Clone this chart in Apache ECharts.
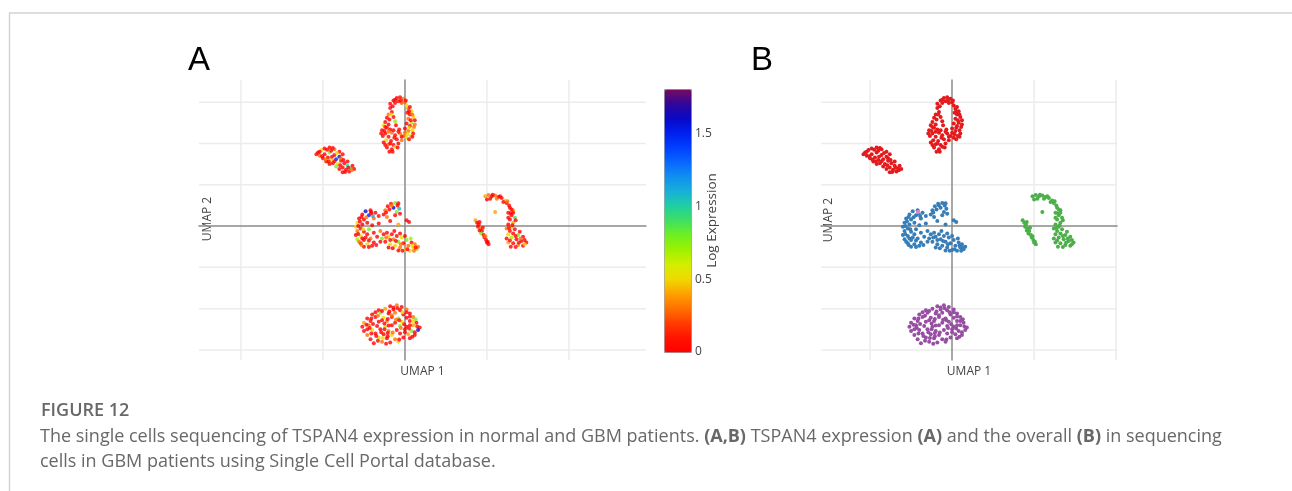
<!DOCTYPE html>
<html>
<head>
<meta charset="utf-8">
<title>TSPAN4 single-cell UMAP</title>
<script src="https://cdn.jsdelivr.net/npm/echarts@6/dist/echarts.min.js"></script>
<style>
  html, body { margin: 0; padding: 0; background: #ffffff; }
  #chart { width: 1292px; height: 491px; }
</style>
</head>
<body>
<div id="chart"></div>
<script>
// Cells of each cluster: [UMAP 1, UMAP 2, TSPAN4 log expression]
const clusterTop = [
  [-0.7,15.2,0],[-0.5,15.5,0],[-0.3,15.6,0],[-0.1,15.4,0.3],[0.0,15.0,0.3],[-0.9,14.8,0],[-0.6,14.9,0],[-0.2,14.9,0.25],[0.1,14.6,0.5],[-0.4,15.1,0],
  [0.2,14.2,0.3],[0.4,13.9,0.5],[0.3,13.5,0],[0.5,13.2,0.5],[0.2,13.0,0.3],[0.6,12.8,0],[0.4,12.5,0.7],[0.3,12.1,0],[0.55,12.0,0.3],[0.45,11.6,0.5],
  [0.2,11.5,0.3],[0.5,11.2,0],[0.35,10.9,0.55],[0.1,12.4,0],[0.15,13.7,0],[0.6,12.3,0.3],[0.0,11.8,0],[0.3,14.4,0],
  [-0.9,14.3,0],[-0.8,13.8,0],[-1.0,13.5,0.3],[-0.7,13.2,0],[-0.95,12.9,0],[-0.6,12.7,0.75],[-1.1,13.1,0],
  [-1.3,12.2,0.5],[-1.1,11.9,0],[-1.4,11.6,0],[-0.9,11.7,0],[-1.2,11.2,0],[-0.8,11.3,0.3],[-1.35,10.9,0],[-1.0,10.8,0],[-0.6,11.0,0],[-1.15,10.4,0.5],
  [-0.85,10.3,0],[-0.5,10.5,0],[-1.3,10.1,0],[-1.0,9.9,0.3],[-0.7,9.8,0],[-1.1,9.5,0],[-0.8,9.3,0],[-0.95,9.0,0],[-0.6,9.6,0.5],[-0.4,10.0,0],
  [-1.25,11.5,0],[-0.7,11.6,0],[-0.55,12.2,0],[-1.0,12.3,0],
  [-0.3,11.2,0.3],[-0.1,10.9,0.3],[0.1,10.7,0.5],[-0.2,10.4,0.3],[0.25,10.5,0],[0.0,11.3,0.3],[-0.35,11.7,0],
  [-0.6,15.3,0],[-0.25,15.2,0],[0.05,15.2,0],[0.25,13.9,0],[0.45,13.5,0.3],[0.35,12.8,0],[0.25,11.9,0.5],[0.45,10.8,0],[-0.75,14.5,0],[-0.85,13.5,0.5],
  [-1.2,12.6,0],[-1.2,12.0,0],[-1.0,11.4,0.3],[-0.65,10.7,0],[-0.9,10.0,0],[-1.2,9.8,0],[-0.45,9.5,0],[-0.75,9.0,0],[-0.2,10.8,0],[0.15,11.1,0.5],
  [-1.45,11.2,0],[-0.4,11.4,0]
];
const clusterLeft = [
  [-5.3,8.9,0],[-5.1,9.2,0.5],[-4.9,9.4,0],[-4.6,9.5,0],[-4.3,9.3,0.3],[-4.0,9.0,0],[-5.2,8.5,0.3],[-4.9,8.7,0],[-4.6,8.9,0.8],[-4.3,8.6,0],
  [-4.0,8.4,1.6],[-3.8,8.7,0],[-5.0,8.2,0],[-4.7,8.3,0],[-4.5,8.0,0.5],[-4.2,8.1,1.5],[-3.9,7.9,0],[-4.8,7.8,0],[-4.4,7.6,0],[-4.1,7.5,0.5],
  [-3.7,7.6,0],[-3.5,7.3,1.0],[-3.8,7.1,0],[-4.0,6.9,0],[-3.6,6.8,0],[-3.3,7.0,0.9],[-3.1,6.9,0],[-3.4,6.6,0],[-3.8,6.5,0],[-3.2,7.3,0],
  [-5.4,8.7,0],[-4.5,9.1,0],[-3.9,8.2,0.3],[-4.6,7.5,0],[-3.5,7.8,0],[-4.2,7.2,0.8],
  [-5.2,9.0,0],[-4.75,9.25,0],[-4.4,9.45,0],[-4.15,8.85,0.5],[-5.05,8.45,0],[-4.45,8.4,0],[-4.85,8.05,0.3],[-4.3,7.85,0],[-3.75,8.0,0],[-3.95,7.35,0],
  [-3.45,7.05,0],[-3.65,6.55,0],[-3.25,6.75,0.3],[-4.65,7.8,0]
];
const clusterMid = [
  [-2.4,1.8,1.6],[-2.1,1.9,0],[-1.8,1.6,0],[-2.6,1.4,0],[-2.2,1.3,1.5],[-1.6,1.2,0],[-2.8,0.9,0],[-2.5,0.8,0],[-1.9,0.9,0.3],[-2.9,0.4,0.5],
  [-2.6,0.2,0],[-2.3,0.4,0],[-3.0,-0.1,0.5],[-2.7,-0.3,0],[-2.0,0.1,0],[-2.9,-0.6,0.3],[-2.5,-0.7,0],[-2.2,-0.4,0.8],[-3.0,-1.1,0],[-2.7,-1.2,0.5],
  [-2.3,-1.0,0],[-1.9,-0.8,0],[-2.9,-1.6,0.7],[-2.5,-1.7,0],[-2.1,-1.5,0.3],[-2.7,-2.1,0],[-2.3,-2.2,0.5],[-1.9,-2.0,0],[-2.5,-2.5,0],[-2.0,-2.4,0],
  [-1.7,-1.3,0],[-1.6,0.3,0],[-2.8,-1.9,0.3],[-2.4,-1.4,0],
  [-1.3,1.4,0],[-1.2,1.9,0.3],[-1.05,2.4,0],[-0.85,2.7,0],[-0.6,2.8,0.8],[-0.45,2.5,0],[-0.35,2.1,1.1],[-0.5,1.7,0.8],[-0.7,2.2,1.6],[-0.95,2.0,0],
  [-0.3,1.5,0],[-1.1,1.1,0.3],[-0.6,1.3,0],
  [0.1,0.7,0],[0.25,0.5,0],[-0.4,0.2,0.4],[-0.9,0.6,0],[-1.95,1.2,1.1],
  [-1.5,-0.6,0.3],[-1.3,-1.0,0],[-1.4,-1.5,0.8],[-1.1,-0.8,0],[-1.0,-1.3,0.5],[-1.2,-1.9,0],[-0.9,-2.2,0.5],[-0.8,-1.0,0],[-0.7,-1.6,0.3],[-0.6,-2.4,0.5],
  [-0.5,-1.2,0],[-0.4,-1.9,0.8],[-0.3,-2.6,0.3],[-0.2,-1.4,0.5],[-0.1,-2.1,0],[0.0,-2.9,0.5],[0.1,-1.7,0.8],[0.2,-2.4,0.3],[0.3,-3.0,0.5],[0.4,-2.0,0],
  [0.5,-2.6,0.5],[0.6,-2.2,0.3],[0.7,-2.8,0.5],[0.8,-2.5,0.3],[-1.0,-2.6,0],[-0.3,-0.9,0],[0.0,-1.2,0],[0.35,-1.5,0.7],[-0.65,-0.6,0],[0.55,-3.0,0.3],
  [-0.15,-3.0,0],
  [-2.65,1.1,0],[-2.35,1.05,0.3],[-2.05,1.55,0],[-2.75,0.55,0],[-2.85,0.0,0],[-2.55,-0.4,0.5],[-2.85,-0.95,0],[-2.6,-1.5,0],[-2.2,-1.75,0],[-2.65,-2.3,0.3],
  [-2.2,-2.55,0],[-1.75,-2.3,0],[-1.5,-1.9,0],[-1.15,-1.4,0.3],[-0.9,-1.7,0],[-0.55,-1.8,0],[-0.25,-2.2,0.3],[0.15,-2.8,0],[0.45,-2.35,0.5],[0.65,-2.6,0],
  [-0.75,-2.7,0],[-0.4,-2.95,0],[-1.15,1.65,0],[-0.8,2.5,0.3],[-0.4,2.75,0]
];
const clusterRight = [
  [4.9,3.6,0.4],[5.1,3.75,0.3],[5.3,3.6,0],[5.5,3.7,0.3],[5.7,3.5,0],[5.9,3.4,0],[6.1,3.1,0.5],[6.2,2.8,0],[6.35,2.5,0],[5.2,3.3,0],
  [5.6,3.3,0.3],[6.0,2.9,0],[5.0,3.2,0],
  [6.4,2.2,0],[6.6,1.9,0.4],[6.3,1.6,0],[6.5,1.3,0],[6.7,1.0,0.9],[6.4,0.8,0],[6.6,0.4,0.4],[6.3,0.2,0],[6.5,-0.1,0.5],[6.7,-0.4,0],
  [6.4,-0.6,0],[6.2,-0.3,0.3],[6.6,1.6,0],[6.3,1.0,0],
  [6.3,-1.0,0.5],[6.6,-0.9,0],[6.9,-1.1,0.8],[7.2,-1.3,0],[6.2,-1.5,0],[6.5,-1.4,0.7],[6.8,-1.6,0],[7.1,-1.8,0],[7.4,-2.0,0],[6.3,-2.0,0.4],
  [6.6,-2.1,0],[6.9,-2.3,0.3],[7.2,-2.4,0],[6.45,-2.5,0],[7.0,-0.7,0],[7.3,-2.2,0.5],[6.75,-2.55,0],
  [4.3,0.7,0.4],[4.4,0.4,0],[4.5,0.2,0],[4.45,-0.1,0],[4.6,-0.3,0.3],[4.7,-0.6,0],[4.65,-0.9,0.8],[4.8,-1.1,0],[4.85,-1.4,0],[4.95,-1.7,0],
  [5.0,-2.0,0],[5.1,-2.2,0],[4.55,0.5,0],[4.75,-0.2,0],
  [5.5,1.7,0.4],
  [5.35,3.8,0],[5.8,3.6,0],[6.25,3.0,0.3],[6.5,2.0,0],[6.45,1.55,0],[6.75,0.7,0],[6.55,0.1,0],[6.35,-0.25,0],[6.75,-1.2,0],[7.05,-1.5,0.3],
  [6.4,-1.75,0],[7.3,-1.7,0],[6.95,-2.0,0],[4.55,-0.55,0],[4.9,-1.25,0.3],[5.05,-1.9,0]
];
const clusterBottom = [
  [-0.9,-9.7,0],[-0.5,-9.6,0.3],[-0.2,-9.8,0],
  [-1.6,-10.2,0],[-1.2,-10.0,0.4],[-0.7,-10.1,0],[-0.3,-10.2,0],[0.1,-10.1,0.3],
  [-2.0,-10.7,0],[-1.5,-10.5,0.8],[-1.0,-10.6,0],[-0.6,-10.5,0.3],[-0.1,-10.7,0],[0.3,-10.6,0],
  [-2.3,-11.2,0],[-1.8,-11.0,0],[-1.3,-11.1,0.5],[-0.8,-11.0,0],[-0.4,-11.2,0.8],[0.1,-11.1,0],[0.5,-11.0,0.3],
  [-2.5,-11.7,0.4],[-2.1,-11.5,0],[-1.6,-11.6,0],[-1.1,-11.5,0.3],[-0.6,-11.7,0],[-0.2,-11.6,0.5],[0.3,-11.5,0],[0.7,-11.7,0],
  [-2.6,-12.2,0],[-2.2,-12.0,0.3],[-1.7,-12.1,0],[-1.2,-12.2,0.5],[-0.8,-12.0,0],[-0.3,-12.1,0.8],[0.1,-12.2,0],[0.5,-12.0,0.4],[0.9,-12.3,0],
  [-2.5,-12.7,0],[-2.0,-12.6,0.5],[-1.5,-12.5,0],[-1.0,-12.7,0.3],[-0.5,-12.6,0],[0.0,-12.5,0],[0.4,-12.7,0.8],[0.8,-12.6,1.6],
  [-2.3,-13.2,0.3],[-1.8,-13.0,0],[-1.3,-13.1,0],[-0.8,-13.2,0.5],[-0.3,-13.0,0],[0.2,-13.1,0.4],[0.6,-13.2,0],
  [-2.1,-13.7,0],[-1.6,-13.5,0.5],[-1.1,-13.6,0],[-0.6,-13.7,0.3],[-0.1,-13.5,0],[0.3,-13.6,0],
  [-1.9,-14.2,0],[-1.4,-14.0,0.3],[-0.9,-14.1,0],[-0.4,-14.0,0.5],
  [-1.95,-11.85,0],[-1.45,-12.85,0],[-0.55,-11.35,0.3],[0.25,-12.4,0],[-1.05,-13.35,0],[-0.15,-10.45,0.5],[-2.15,-12.35,0],[0.45,-13.4,0],
  [-0.95,-10.35,0],[-1.65,-10.85,0.3],[0.65,-11.3,0.8],[-1.25,-11.8,0],[-0.05,-11.9,0],[-0.75,-12.9,0.3],[-1.75,-13.3,0],
  [-0.7,-9.85,0],[-1.4,-10.3,0],[-0.45,-9.95,0],[-1.8,-10.45,0],[-0.8,-10.8,0.3],[0.1,-10.45,0],[-2.05,-11.2,0],[-1.05,-11.25,0],[0.3,-10.95,0],
  [-2.35,-11.95,0],[-1.4,-11.4,0],[-0.35,-11.4,0],[0.5,-11.5,0.5],[-1.0,-12.05,0],[0.3,-12.0,0],[0.75,-12.15,0],[-2.3,-12.5,0],[-1.25,-12.5,0],
  [-0.25,-12.35,0.3],[0.6,-12.85,0],[-2.05,-13.0,0],[-1.05,-12.95,0],[0.0,-12.85,0],[-1.35,-13.55,0.5],[-0.35,-13.75,0],[-1.65,-13.9,0],[-1.15,-14.25,0]
];
const clusterMinor = [
  [-2.07,1.7,0]
];

const clusters = [clusterTop, clusterLeft, clusterMid, clusterRight, clusterBottom, clusterMinor];
const clusterColors = ['#e41a1c', '#e41a1c', '#377eb8', '#4daf4a', '#984ea3', '#f781bf'];

// Axis extents (UMAP units) and grid line positions
const rangeAX = [-12.56, 14.7];
const rangeBX = [-7.99, 10.05];
const rangeY = [-16.22, 17.68];
const gridLinesAX = [-10, -5, 5, 10];
const gridLinesBX = [-5, 5, 10];
const gridLinesY = [-15, -10, -5, 5, 10, 15];

// Log expression colour scale
const exprRange = [0, 1.81];
const exprTickStep = 0.5;
const exprColors = [
  '#ff0000', '#ff1400', '#ff3c00', '#ff7000', '#ffa000', '#f0d800', '#d4ee00', '#a0f000',
  '#70f020', '#40e060', '#20d0a0', '#18b0d8', '#1090f0', '#0868ff', '#0040ff', '#0020f0',
  '#0808c8', '#30069a', '#780a60'
];

const chart = echarts.init(document.getElementById('chart'), null, { renderer: 'canvas' });

const FONT = '"Open Sans", "DejaVu Sans", sans-serif';

function gridLineSeries(axisIdx, xs, ys) {
  const style = { stroke: '#ececec', lineWidth: 1.5 };
  return [
    {
      type: 'custom', xAxisIndex: axisIdx, yAxisIndex: axisIdx, silent: true, z: 0, clip: false,
      data: xs.map(v => [v, 0]),
      renderItem(params, api) {
        const x = api.coord([api.value(0), 0])[0];
        const cs = params.coordSys;
        return { type: 'line', shape: { x1: x, y1: cs.y, x2: x, y2: cs.y + cs.height }, style };
      }
    },
    {
      type: 'custom', xAxisIndex: axisIdx, yAxisIndex: axisIdx, silent: true, z: 0, clip: false,
      data: ys.map(v => [0, v]),
      renderItem(params, api) {
        const y = api.coord([0, api.value(1)])[1];
        const cs = params.coordSys;
        return { type: 'line', shape: { x1: cs.x, y1: y, x2: cs.x + cs.width, y2: y }, style };
      }
    }
  ];
}

function umapXAxis(gridIndex, range) {
  return {
    type: 'value', gridIndex, min: range[0], max: range[1], z: 1,
    axisLine: { show: true, onZero: true, lineStyle: { color: '#8a8a8a', width: 1.5 } },
    axisTick: { show: false }, axisLabel: { show: false }, splitLine: { show: false }
  };
}
function umapYAxis(gridIndex) {
  return {
    type: 'value', gridIndex, min: rangeY[0], max: rangeY[1], z: 1,
    axisLine: { show: true, onZero: true, lineStyle: { color: '#8a8a8a', width: 1.5 } },
    axisTick: { show: false }, axisLabel: { show: false }, splitLine: { show: false }
  };
}

const cellsAll = clusters.flat();

const series = [];
series.push(...gridLineSeries(0, gridLinesAX, gridLinesY));
series.push(...gridLineSeries(1, gridLinesBX, gridLinesY));
const exprSeriesIndex = series.length;
series.push({
  type: 'scatter', name: 'TSPAN4', xAxisIndex: 0, yAxisIndex: 0, z: 2,
  symbolSize: 4, data: cellsAll, silent: true
});
clusters.forEach((cells, i) => {
  series.push({
    type: 'scatter', xAxisIndex: 1, yAxisIndex: 1, z: 2, silent: true,
    symbolSize: 4, data: cells, itemStyle: { color: clusterColors[i], opacity: 1 }
  });
});

const labelColor = '#444';
const captionColor = '#686868';

const option = {
  backgroundColor: '#ffffff',
  animation: false,
  grid: [
    { left: 199, top: 80, width: 447, height: 280 },
    { left: 821, top: 80, width: 296, height: 280 },
    { left: 664, top: 89, width: 27, height: 263 }
  ],
  xAxis: [
    umapXAxis(0, rangeAX),
    umapXAxis(1, rangeBX),
    { type: 'value', gridIndex: 2, min: 0, max: 1, show: false }
  ],
  yAxis: [
    umapYAxis(0),
    umapYAxis(1),
    {
      type: 'value', gridIndex: 2, position: 'right', min: exprRange[0], max: exprRange[1], interval: exprTickStep,
      axisLine: { show: false }, axisTick: { show: false }, splitLine: { show: false },
      axisLabel: { show: true, showMaxLabel: false, color: labelColor, fontSize: 12, fontFamily: FONT, margin: 4 },
      name: 'Log Expression', nameLocation: 'middle', nameRotate: 90, nameGap: 14, nameMoveOverlap: false,
      nameTextStyle: { color: labelColor, fontSize: 13.5, fontFamily: FONT }
    }
  ],
  visualMap: [{
    type: 'continuous', seriesIndex: exprSeriesIndex, dimension: 2,
    min: exprRange[0], max: exprRange[1], inRange: { color: exprColors },
    calculable: false, hoverLink: false, itemWidth: 27, itemHeight: 263,
    left: 664, top: 89, padding: 0, borderWidth: 1, borderColor: '#9a9a9a'
  }],
  series,
  graphic: [
    // frame
    { type: 'line', shape: { x1: 9, y1: 13, x2: 1292, y2: 13 }, style: { stroke: '#d2d2d2', lineWidth: 1.5 }, silent: true },
    { type: 'line', shape: { x1: 9.5, y1: 13, x2: 9.5, y2: 491 }, style: { stroke: '#d2d2d2', lineWidth: 1.5 }, silent: true },
    // panel letters
    { type: 'text', x: 188, y: 61, style: { text: 'A', font: '33px "Liberation Sans", Arial, sans-serif', fill: '#000', verticalAlign: 'middle' }, silent: true },
    { type: 'text', x: 751, y: 61, style: { text: 'B', font: '33px "Liberation Sans", Arial, sans-serif', fill: '#000', verticalAlign: 'middle' }, silent: true },
    // axis titles
    { type: 'text', x: 422.5, y: 372, style: { text: 'UMAP 1', font: '12px ' + FONT, fill: labelColor, align: 'center', verticalAlign: 'middle' }, silent: true },
    { type: 'text', x: 969, y: 372, style: { text: 'UMAP 1', font: '12px ' + FONT, fill: labelColor, align: 'center', verticalAlign: 'middle' }, silent: true },
    { type: 'text', x: 208, y: 219, rotation: Math.PI / 2, style: { text: 'UMAP 2', font: '12px ' + FONT, fill: labelColor, align: 'center', verticalAlign: 'middle' }, silent: true },
    { type: 'text', x: 829, y: 220, rotation: Math.PI / 2, style: { text: 'UMAP 2', font: '12px ' + FONT, fill: labelColor, align: 'center', verticalAlign: 'middle' }, silent: true },
    // caption
    { type: 'text', x: 41, y: 411, style: { text: 'FIGURE 12', font: '600 18px ' + FONT, fill: captionColor, verticalAlign: 'middle' }, silent: true },
    {
      type: 'text', x: 40, y: 437, silent: true,
      style: {
        text: 'The single cells sequencing of TSPAN4 expression in normal and GBM patients. {b|(A,B)} TSPAN4 expression {b|(A)} and the overall {b|(B)} in sequencing',
        font: '18px ' + FONT, fill: captionColor, verticalAlign: 'middle',
        rich: { b: { fontWeight: 'bold', fontSize: 18, fontFamily: FONT, fill: captionColor } }
      }
    },
    { type: 'text', x: 40, y: 462, style: { text: 'cells in GBM patients using Single Cell Portal database.', font: '18px ' + FONT, fill: captionColor, verticalAlign: 'middle' }, silent: true }
  ]
};

chart.setOption(option);
</script>
</body>
</html>
